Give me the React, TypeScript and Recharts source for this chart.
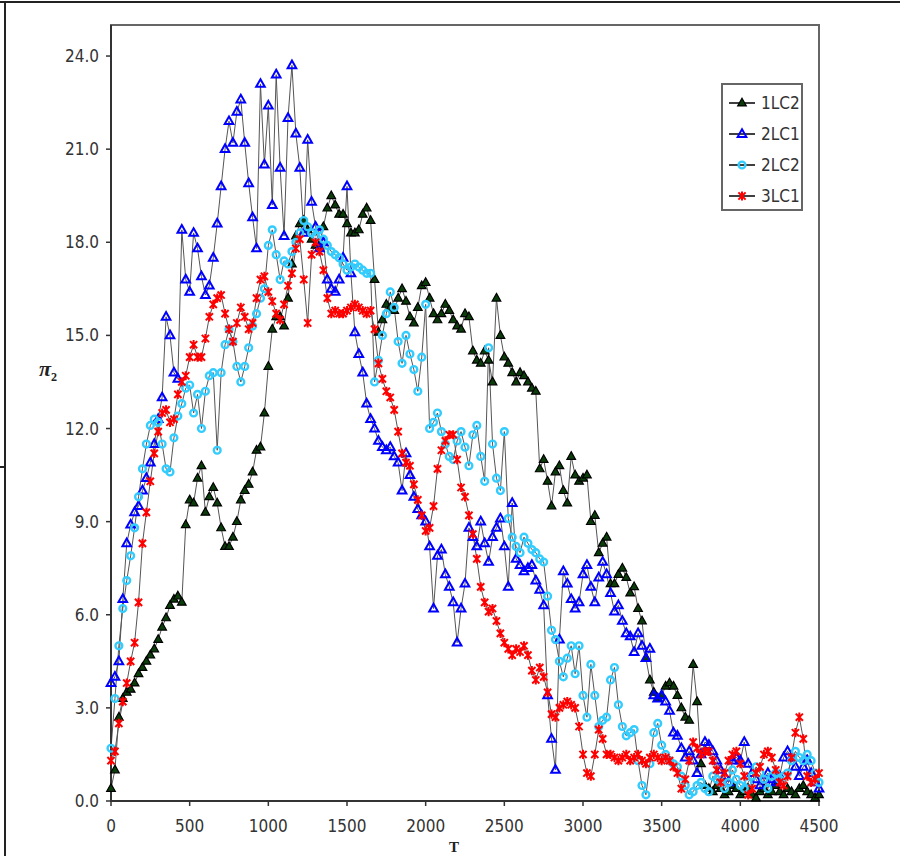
import { LineChart, Line, XAxis, YAxis, ReferenceArea } from 'recharts'

// sample times (T)
const T = [
  0, 25, 50, 75, 100, 125, 150, 175, 200, 225, 250, 275, 300, 325, 350, 375,
  400, 425, 450, 475, 500, 525, 550, 575, 600, 625, 650, 675, 700, 725, 750, 775,
  800, 825, 850, 875, 900, 925, 950, 975, 1000, 1025, 1050, 1075, 1100, 1125, 1150, 1175,
  1200, 1225, 1250, 1275, 1300, 1325, 1350, 1375, 1400, 1425, 1450, 1475, 1500, 1525, 1550, 1575,
  1600, 1625, 1650, 1675, 1700, 1725, 1750, 1775, 1800, 1825, 1850, 1875, 1900, 1925, 1950, 1975,
  2000, 2025, 2050, 2075, 2100, 2125, 2150, 2175, 2200, 2225, 2250, 2275, 2300, 2325, 2350, 2375,
  2400, 2425, 2450, 2475, 2500, 2525, 2550, 2575, 2600, 2625, 2650, 2675, 2700, 2725, 2750, 2775,
  2800, 2825, 2850, 2875, 2900, 2925, 2950, 2975, 3000, 3025, 3050, 3075, 3100, 3125, 3150, 3175,
  3200, 3225, 3250, 3275, 3300, 3325, 3350, 3375, 3400, 3425, 3450, 3475, 3500, 3525, 3550, 3575,
  3600, 3625, 3650, 3675, 3700, 3725, 3750, 3775, 3800, 3825, 3850, 3875, 3900, 3925, 3950, 3975,
  4000, 4025, 4050, 4075, 4100, 4125, 4150, 4175, 4200, 4225, 4250, 4275, 4300, 4325, 4350, 4375,
  4400, 4425, 4450, 4475, 4500,
]

const LC12 = [
  0.4, 1.0, 2.7, 3.3, 3.5, 3.6, 3.8, 4.1,
  4.3, 4.5, 4.7, 4.9, 5.2, 5.6, 5.9, 6.3,
  6.5, 6.6, 6.4, 8.9, 9.7, 9.6, 10.4, 10.8,
  9.3, 9.8, 10.1, 9.6, 8.8, 8.2, 8.2, 8.5,
  9.0, 9.7, 10.0, 10.2, 10.6, 11.3, 11.4, 12.5,
  14.0, 15.2, 15.6, 15.6, 15.3, 16.2, 17.3, 18.2,
  18.6, 18.7, 18.4, 18.1, 17.9, 17.9, 18.5, 19.1,
  19.5, 19.2, 18.9, 18.9, 18.6, 18.3, 18.3, 18.4,
  18.9, 19.1, 18.7, 16.8, 15.1, 15.5, 16.0, 15.9,
  15.8, 16.2, 16.5, 16.1, 15.6, 15.4, 15.9, 16.6,
  16.7, 16.2, 15.7, 15.5, 15.7, 16.0, 15.8, 15.5,
  15.3, 15.2, 15.7, 15.6, 14.5, 14.2, 14.1, 14.5,
  14.2, 13.5, 16.2, 15.0, 14.3, 14.1, 13.8, 13.5,
  13.8, 13.7, 13.5, 13.3, 13.2, 10.7, 11.0, 10.3,
  9.5, 10.6, 10.8, 10.0, 9.6, 11.1, 10.5, 10.3,
  10.4, 10.5, 9.0, 9.2, 8.0, 8.3, 8.5, 7.0,
  7.0, 7.3, 7.5, 7.2, 6.7, 6.9, 6.2, 5.8,
  4.6, 3.9, 3.5, 3.3, 3.4, 3.7, 3.8, 3.7,
  3.4, 3.0, 2.7, 2.6, 4.4, 3.2, 1.2, 0.5,
  0.4, 0.3, 0.5, 0.4, 0.2, 0.3, 0.5, 0.4,
  0.2, 0.3, 0.4, 0.2, 0.1, 0.3, 0.4, 0.2,
  0.3, 0.5, 0.3, 0.2, 0.4, 0.3, 0.2, 0.4,
  0.5, 0.3, 0.2, 0.1, 0.2,
]

const LC21 = [
  3.8, 4.0, 4.5, 6.5, 8.3, 8.9, 9.3, 9.5,
  10.0, 10.4, 10.9, 11.5, 12.3, 13.0, 15.6, 15.0,
  13.8, 13.6, 18.4, 16.8, 16.4, 18.3, 17.8, 16.9,
  16.3, 16.6, 17.5, 18.6, 19.8, 21.0, 21.9, 21.2,
  22.2, 22.6, 21.2, 19.9, 18.8, 17.8, 23.1, 20.5,
  22.4, 19.2, 23.4, 20.4, 18.2, 22.0, 23.7, 21.5,
  20.4, 18.3, 21.3, 19.3, 18.5, 17.8, 18.0, 16.8,
  16.5, 16.4, 16.8, 17.5, 19.8, 17.0, 15.1, 14.4,
  13.8, 12.8, 12.3, 12.0, 11.6, 11.4, 11.3, 11.4,
  11.1, 10.9, 10.0, 11.2, 10.5, 9.8, 9.4, 9.2,
  9.0, 8.2, 6.2, 7.9, 8.1, 7.3, 6.9, 6.4,
  5.1, 6.2, 7.0, 8.8, 8.5, 8.2, 9.0, 8.3,
  7.7, 8.5, 8.8, 9.1, 8.2, 6.9, 9.6, 7.8,
  7.6, 7.4, 7.5, 7.6, 7.1, 6.8, 6.3, 3.4,
  2.0, 1.0, 5.2, 7.4, 7.0, 6.5, 6.2, 6.4,
  7.3, 7.6, 6.9, 6.4, 7.2, 7.7, 7.3, 6.7,
  6.1, 6.3, 5.8, 5.4, 5.3, 4.8, 5.4, 5.0,
  4.6, 4.9, 3.4, 3.3, 3.4, 3.2, 2.9, 2.2,
  2.1, 1.7, 1.4, 1.6, 1.3, 0.9, 1.5, 1.9,
  1.8, 1.6, 1.3, 1.0, 0.8, 0.6, 1.3, 1.4,
  1.3, 1.9, 1.2, 0.9, 0.7, 0.5, 0.7, 0.9,
  0.7, 0.6, 0.8, 1.4, 1.6, 1.4, 1.1, 0.8,
  1.1, 1.3, 0.9, 0.6, 0.4,
]

const LC22 = [
  1.7, 3.3, 5.0, 6.2, 7.1, 7.9, 8.8, 9.8,
  10.7, 11.5, 12.1, 12.3, 12.2, 11.5, 10.7, 10.6,
  11.7, 12.4, 12.8, 13.3, 13.4, 12.5, 13.1, 12.0,
  13.2, 13.7, 13.8, 11.3, 13.8, 14.7, 15.2, 14.8,
  14.0, 13.5, 14.0, 14.6, 15.3, 15.7, 16.2, 16.5,
  17.9, 18.4, 17.6, 16.8, 17.4, 17.3, 17.7, 18.0,
  18.3, 18.7, 18.5, 18.3, 18.2, 18.4, 18.1, 17.9,
  17.7, 17.6, 17.5, 17.3, 17.1, 17.2, 17.3, 17.2,
  17.1, 17.0, 17.0, 13.5, 14.2, 15.0, 15.7, 16.4,
  15.9, 14.8, 14.1, 15.0, 14.4, 13.9, 13.2, 14.3,
  16.0, 12.0, 12.2, 12.5, 11.9, 11.5, 11.1, 11.0,
  11.6, 11.9, 11.4, 10.8, 11.8, 12.1, 11.1, 10.3,
  14.6, 11.5, 10.4, 10.0, 11.9, 9.1, 8.5, 8.2,
  8.0, 8.5, 8.3, 8.1, 8.0, 7.8, 7.7, 6.6,
  5.5, 5.2, 4.5, 4.0, 4.6, 5.0, 4.1, 5.0,
  3.4, 2.7, 4.4, 3.4, 2.4, 2.6, 2.7, 3.9,
  4.3, 3.1, 2.4, 2.1, 2.2, 2.3, 1.3, 0.5,
  0.2, 1.2, 2.2, 2.5, 1.8, 1.5, 1.3, 1.2,
  1.1, 0.8, 0.5, 0.2, 0.3, 0.5, 0.6, 0.4,
  0.3, 0.8, 0.7, 0.6, 0.4, 0.6, 1.0, 0.7,
  0.5, 0.4, 0.6, 0.8, 1.1, 0.9, 0.7, 0.4,
  0.8, 0.9, 0.7, 0.8, 0.9, 1.3, 1.6, 1.4,
  1.3, 1.5, 1.3, 0.9, 0.6,
]

const LC31 = [
  1.3, 1.6, 2.5, 3.2, 3.8, 4.5, 5.1, 6.4,
  8.3, 9.3, 10.3, 11.2, 11.9, 12.5, 12.6, 12.2,
  12.3, 13.1, 13.5, 13.7, 14.3, 14.7, 14.3, 14.3,
  14.9, 15.6, 16.0, 16.2, 16.3, 15.7, 15.2, 14.8,
  15.4, 15.9, 15.6, 15.2, 15.4, 16.2, 16.8, 16.9,
  16.4, 16.1, 15.7, 15.5, 16.0, 16.6, 17.0, 17.8,
  18.1, 16.8, 15.4, 17.6, 18.0, 17.7, 17.1, 16.2,
  15.7, 15.8, 15.7, 15.7, 15.8, 15.9, 16.0, 15.9,
  15.8, 15.7, 15.8, 15.2, 14.1, 13.6, 13.2, 13.0,
  12.6, 11.9, 11.2, 10.9, 10.8, 10.2, 9.7, 9.2,
  8.7, 8.8, 9.5, 10.7, 11.3, 11.6, 11.8, 11.8,
  11.0, 10.1, 9.8, 9.2, 8.6, 7.8, 6.9, 6.4,
  6.1, 6.2, 5.8, 5.4, 5.1, 4.9, 4.7, 4.9,
  4.8, 5.0, 4.7, 4.2, 3.9, 4.3, 4.0, 3.5,
  2.8, 2.7, 3.0, 3.1, 3.2, 3.1, 3.0, 2.4,
  1.5, 0.9, 0.8, 1.5, 2.3, 2.0, 1.5, 1.5,
  1.4, 1.3, 1.4, 1.5, 1.3, 1.4, 1.5, 1.3,
  1.2, 1.4, 1.5, 1.4, 1.3, 1.4, 1.3, 1.1,
  0.9, 0.4, 0.7, 1.3, 1.9, 1.7, 1.5, 1.6,
  1.6, 1.3, 1.0, 0.6, 0.9, 1.3, 1.5, 1.6,
  1.2, 0.8, 0.2, 0.4, 0.9, 1.1, 1.5, 1.6,
  1.4, 1.0, 0.6, 0.5, 0.8, 1.4, 2.2, 2.7,
  2.0, 0.8, 0.6, 0.7, 0.9,
]

const X_TICKS = [0, 500, 1000, 1500, 2000, 2500, 3000, 3500, 4000, 4500]
const Y_TICKS = [0, 3, 6, 9, 12, 15, 18, 21, 24]

const data = T.map((t, i) => ({
  t,
  lc12: LC12[i],
  lc21: LC21[i],
  lc22: LC22[i],
  lc31: LC31[i],
}))

const FONT = '"Liberation Sans Narrow", "DejaVu Sans Condensed", Arial, sans-serif'

const tri = (cx: number, cy: number, s: number) =>
  `M${cx},${cy - s}L${cx + s * 0.9},${cy + s * 0.6}L${cx - s * 0.9},${cy + s * 0.6}Z`

const star = (cx: number, cy: number, s: number) =>
  `M${cx - s},${cy - s}L${cx + s},${cy + s}M${cx - s},${cy + s}L${cx + s},${cy - s}M${cx},${cy - s - 1}L${cx},${cy + s + 1}`

// marker shapes per series
const markers: Record<string, (cx: number, cy: number) => JSX.Element> = {
  lc12: (cx, cy) => <path d={tri(cx, cy, 4.8)} fill="#0b3d0b" stroke="#000" strokeWidth={1.2} />,
  lc21: (cx, cy) => <path d={tri(cx, cy, 4.8)} fill="none" stroke="#0000ff" strokeWidth={2} />,
  lc22: (cx, cy) => <circle cx={cx} cy={cy} r={3.4} fill="none" stroke="#33ccff" strokeWidth={2.4} />,
  lc31: (cx, cy) => <path d={star(cx, cy, 3.6)} fill="none" stroke="#ff0000" strokeWidth={2} />,
}

const dotFor = (key: string) => (p: any) => {
  if (p.cx == null || p.cy == null) return <g key={`${key}-${p.index}`} />
  return <g key={`${key}-${p.index}`}>{markers[key](p.cx, p.cy)}</g>
}

const SERIES = [
  { key: 'lc12', name: '1LC2' },
  { key: 'lc21', name: '2LC1' },
  { key: 'lc22', name: '2LC2' },
  { key: 'lc31', name: '3LC1' },
]

const ChartLegend = () => (
  <div
    style={{
      position: 'absolute',
      left: 721,
      top: 83,
      width: 78,
      height: 124,
      border: '2px solid #666',
      background: '#fff',
    }}
  >
    {SERIES.map((s, i) => (
      <div key={s.key} style={{ position: 'absolute', left: 5, top: 8 + i * 31, height: 20, display: 'flex', alignItems: 'center' }}>
        <svg width={28} height={20}>
          <line x1={1} y1={10} x2={27} y2={10} stroke="#000" strokeWidth={1.5} />
          {markers[s.key](14, 10)}
        </svg>
        <span style={{ fontFamily: FONT, fontSize: 17, color: '#333', marginLeft: 5 }}>{s.name}</span>
      </div>
    ))}
  </div>
)

const App = () => {
  return (
    <div style={{ position: 'absolute', left: 0, top: 0, width: 900, height: 856, overflow: 'hidden', background: '#fff' }}>
      {/* page frame lines */}
      <div style={{ position: 'absolute', left: 0, top: 1, width: 900, height: 2, background: '#222' }} />
      <div style={{ position: 'absolute', left: 4, top: 1, width: 2, height: 856, background: '#222' }} />
      <div style={{ position: 'absolute', left: 0, top: 466, width: 5, height: 2, background: '#222' }} />

      <LineChart
        width={900}
        height={856}
        data={data}
        margin={{ top: 25, right: 81, bottom: 25, left: 51 }}
        style={{ position: 'absolute', left: 0, top: 0 }}
      >
        <ReferenceArea x1={0} x2={4500} y1={0} y2={25} fill="none" stroke="#666" strokeWidth={2} ifOverflow="visible" />
        <XAxis
          dataKey="t"
          type="number"
          domain={[0, 4500]}
          ticks={X_TICKS}
          height={30}
          tickSize={5}
          tickMargin={14}
          axisLine={{ stroke: '#333', strokeWidth: 2 }}
          tickLine={{ stroke: '#333', strokeWidth: 1.5 }}
          tick={{ fill: '#333', fontSize: 17, fontFamily: FONT }}
          interval={0}
        />
        <YAxis
          type="number"
          domain={[0, 25]}
          ticks={Y_TICKS}
          width={60}
          tickSize={5}
          tickMargin={7}
          tickFormatter={(v: number) => v.toFixed(1)}
          axisLine={{ stroke: '#333', strokeWidth: 2 }}
          tickLine={{ stroke: '#333', strokeWidth: 1.5 }}
          tick={{ fill: '#333', fontSize: 17, fontFamily: FONT }}
          interval={0}
        />
        {SERIES.map((s) => (
          <Line
            key={s.key}
            type="linear"
            dataKey={s.key}
            name={s.name}
            stroke="#555"
            strokeWidth={1}
            dot={dotFor(s.key)}
            activeDot={false}
            isAnimationActive={false}
          />
        ))}
      </LineChart>

      {/* axis titles */}
      <div style={{ position: 'absolute', left: 39, top: 358, fontFamily: '"Liberation Serif", serif', fontWeight: 'bold', fontStyle: 'italic', fontSize: 22, color: '#222', lineHeight: 1 }}>
        π<sub style={{ fontSize: 12, fontStyle: 'normal' }}>2</sub>
      </div>
      <div style={{ position: 'absolute', left: 449, top: 840, fontFamily: '"Liberation Serif", serif', fontWeight: 'bold', fontSize: 15, color: '#222', lineHeight: 1 }}>
        T
      </div>

      <ChartLegend />
    </div>
  )
}

export default App
